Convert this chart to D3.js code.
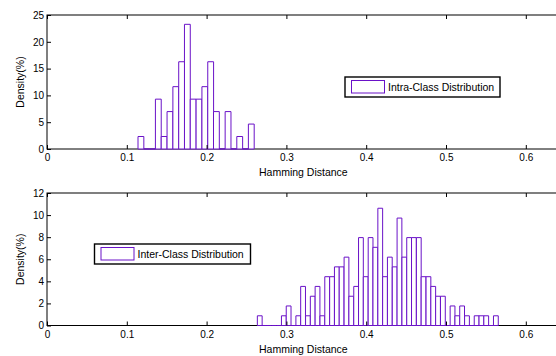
<!DOCTYPE html>
<html><head><meta charset="utf-8">
<script src="https://cdn.jsdelivr.net/npm/d3@7/dist/d3.min.js"></script>
<style>
html,body{margin:0;padding:0;background:#fff;}
svg text{font-family:"Liberation Sans",Arial,Helvetica,sans-serif;fill:#000;}
</style></head>
<body>
<svg id="chart" width="556" height="356"></svg>
<script>
// ---------------- data ----------------
const xTicks = [0, 0.1, 0.2, 0.3, 0.4, 0.5, 0.6];
const xLabels = ["0", "0.1", "0.2", "0.3", "0.4", "0.5", "0.6"];
const intraYTicks = [0, 5, 10, 15, 20, 25];
const interYTicks = [0, 2, 4, 6, 8, 10, 12];
const xTitle = "Hamming Distance";
const yTitle = "Density(%)";
const intraName = "Intra-Class Distribution";
const interName = "Inter-Class Distribution";

const intraCenters = [0.1177,0.1250,0.1323,0.1395,0.1468,0.1541,0.1614,0.1687,0.1759,0.1832,
                      0.1905,0.1978,0.2051,0.2123,0.2196,0.2269,0.2342,0.2415,0.2487,0.2560];
const intraDensity = [2.33,0,0,9.30,2.33,6.98,11.63,16.28,23.26,9.30,
                      9.30,11.63,16.28,6.98,0,6.98,0,2.33,0,4.65];

const interCenters = [0.2666,0.2726,0.2786,0.2847,0.2907,0.2968,0.3028,0.3088,0.3149,0.3209,
                      0.3270,0.3330,0.3390,0.3451,0.3511,0.3572,0.3632,0.3692,0.3753,0.3813,
                      0.3874,0.3934,0.3994,0.4055,0.4115,0.4176,0.4236,0.4296,0.4357,0.4417,
                      0.4478,0.4538,0.4598,0.4659,0.4719,0.4780,0.4840,0.4900,0.4961,0.5021,
                      0.5082,0.5142,0.5202,0.5263,0.5323,0.5384,0.5444,0.5504,0.5565,0.5625];
const interDensity = [0.88,0,0,0,0,0.88,1.77,0,0.88,3.54,
                      0.88,2.65,3.54,0.88,4.42,4.42,5.31,5.31,6.19,2.65,
                      3.54,7.96,4.42,7.96,7.08,10.62,4.42,6.19,5.31,9.73,
                      6.19,7.96,7.96,7.96,4.42,4.42,3.54,2.65,2.65,0,
                      1.77,0.88,1.77,0.88,0,0.88,0.88,0.88,0,0.88];

// ---------------- drawing ----------------
const svg = d3.select("#chart");
const barColor = "#6a12c8";
const left = 47, right = 565.7;
const x = d3.scaleLinear().domain([0, 0.65]).range([left, right]);

function panel(cfg) {
  const y = d3.scaleLinear().domain([0, cfg.yMax]).range([cfg.bottom, cfg.top]);
  const g = svg.append("g");
  // frame
  g.append("rect").attr("x", left).attr("y", cfg.top)
    .attr("width", right - left).attr("height", cfg.bottom - cfg.top)
    .attr("fill", "#fff").attr("stroke", "#000").attr("stroke-width", 1);
  // bars
  const bw = cfg.centers[1] - cfg.centers[0];
  g.append("g").selectAll("path").data(cfg.centers.map((c, i) => ({c, v: cfg.values[i]})))
    .join("path")
    .attr("d", d => {
      const x0 = x(d.c - bw / 2), x1 = x(d.c + bw / 2), y0 = y(0), y1 = y(d.v);
      return `M${x0},${y0}V${y1}H${x1}V${y0}Z`;
    })
    .attr("fill", "#fff").attr("stroke", barColor).attr("stroke-width", 1);
  // axes (ticks inward)
  const ax = g.append("g").attr("transform", `translate(0,${cfg.bottom})`)
    .call(d3.axisBottom(x).tickValues(xTicks).tickFormat((d, i) => xLabels[i])
      .tickSizeInner(-4).tickSizeOuter(0).tickPadding(5));
  const axT = g.append("g").attr("transform", `translate(0,${cfg.top})`)
    .call(d3.axisTop(x).tickValues(xTicks).tickFormat("").tickSizeInner(-4).tickSizeOuter(0));
  const ay = g.append("g").attr("transform", `translate(${left},0)`)
    .call(d3.axisLeft(y).tickValues(cfg.yTicks).tickFormat(d3.format("d"))
      .tickSizeInner(-4).tickSizeOuter(0).tickPadding(3));
  [ax, axT, ay].forEach(a => {
    a.select(".domain").remove();
    a.selectAll("line").attr("stroke", "#000");
    a.selectAll("text").attr("font-size", 10).attr("font-family", null);
  });
  // titles
  g.append("text").attr("x", (left + right) / 2 - 3).attr("y", cfg.bottom + 27)
    .attr("text-anchor", "middle").attr("font-size", 10.5).text(xTitle);
  g.append("text").attr("transform", `translate(24,${(cfg.top + cfg.bottom) / 2}) rotate(-90)`)
    .attr("text-anchor", "middle").attr("font-size", 10.5).text(yTitle);
  // legend
  const L = cfg.legend;
  const lg = g.append("g");
  lg.append("rect").attr("x", L.x).attr("y", L.y).attr("width", L.w).attr("height", 20)
    .attr("fill", "#fff").attr("stroke", "#000").attr("stroke-width", 1.4);
  lg.append("rect").attr("x", L.x + 6.5).attr("y", L.y + 3.5).attr("width", 33).attr("height", 12.5)
    .attr("fill", "#fff").attr("stroke", barColor).attr("stroke-width", 1);
  lg.append("text").attr("x", L.x + 43).attr("y", L.y + 14).attr("font-size", 10.5).text(L.name);
}

panel({top: 15, bottom: 149, yMax: 25, yTicks: intraYTicks,
       centers: intraCenters, values: intraDensity,
       legend: {x: 345, y: 77, w: 155, name: intraName}});
panel({top: 193, bottom: 325.5, yMax: 12, yTicks: interYTicks,
       centers: interCenters, values: interDensity,
       legend: {x: 94.5, y: 244, w: 156, name: interName}});
</script>
</body></html>
